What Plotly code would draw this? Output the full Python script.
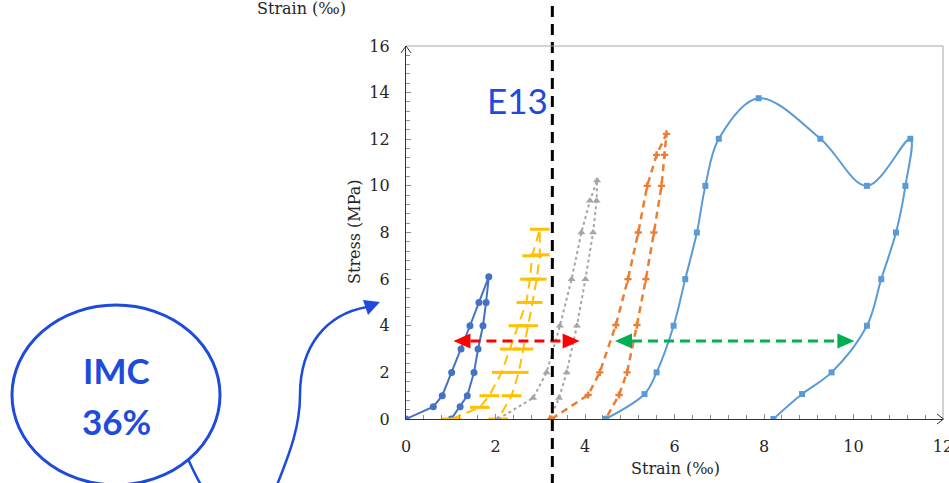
import plotly.graph_objects as go

# ---- loading / unloading cycles (strain in per mille, stress in MPa) ----
c1_strain = [0.0, 0.61, 0.81, 1.02, 1.23, 1.43, 1.63, 1.85,
             1.79, 1.72, 1.61, 1.52, 1.37, 1.21, 1.01]
c1_stress = [0.0, 0.53, 1.0, 2.0, 3.0, 4.0, 5.0, 6.1,
             5.0, 4.0, 3.0, 2.0, 1.0, 0.53, 0.0]

c2_strain = [1.02, 1.65, 1.86, 2.14, 2.32, 2.51, 2.69, 2.77, 2.82, 2.99,
             2.99, 2.92, 2.83, 2.73, 2.62, 2.52, 2.36, 2.06]
c2_stress = [0.0, 0.5, 1.0, 2.0, 3.0, 4.0, 5.0, 6.0, 7.0, 8.14,
             7.04, 6.0, 5.0, 4.0, 3.0, 2.0, 1.0, 0.0]

c3_strain = [2.06, 2.84, 3.14, 3.44, 3.70, 3.92, 4.11, 4.27,
             4.26, 4.18, 4.01, 3.82, 3.59, 3.42, 3.21]
c3_stress = [0.0, 0.9, 2.0, 4.0, 6.0, 8.0, 9.36, 10.23,
             9.36, 8.0, 6.0, 4.0, 2.0, 0.9, 0.0]

c4_strain = [3.25, 4.07, 4.33, 4.69, 4.96, 5.19, 5.39, 5.60, 5.82,
             5.78, 5.71, 5.54, 5.36, 5.16, 4.94, 4.76, 4.46]
c4_stress = [0.0, 1.03, 2.0, 4.03, 6.0, 8.0, 10.0, 11.33, 12.23,
             11.33, 10.0, 8.0, 6.0, 4.03, 2.0, 1.03, 0.0]

c5_strain = [4.46, 5.33, 5.60, 5.98, 6.24, 6.50, 6.69, 6.99, 7.88, 9.26,
             10.30, 11.27, 11.16, 10.95, 10.62, 10.30, 9.51, 8.85, 8.21]
c5_stress = [0.0, 1.07, 2.0, 4.0, 6.0, 8.0, 10.0, 12.02, 13.76, 12.02,
             10.0, 12.02, 10.0, 8.0, 6.0, 4.0, 2.0, 1.07, 0.0]

x_ticks = [0, 2, 4, 6, 8, 10, 12]
y_ticks = [0, 2, 4, 6, 8, 10, 12, 14, 16]

# residual-strain spans and the E13 marker position
red_span = (1.06, 3.88)
green_span = (4.67, 10.02)
span_stress = 3.35
e13_strain = 3.27

# ---- page geometry ----
W, H = 949, 483
ML, MR, MT, MB = 406, 6, 46, 64
PW, PH = W - ML - MR, H - MT - MB


def px(x):
    return (x - ML) / PW


def py(y):
    return (H - MB - y) / PH


BLUE_TXT = "#1E4BDB"
SERIF = "DejaVu Serif"

fig = go.Figure()

fig.add_trace(go.Scatter(
    x=c1_strain, y=c1_stress, mode="lines+markers",
    line=dict(color="#4472C4", width=2),
    marker=dict(symbol="circle", size=7, color="#4472C4")))

fig.add_trace(go.Scatter(
    x=c2_strain, y=c2_stress, mode="lines+markers",
    line=dict(color="#FFC000", width=2, dash="10px,6px"),
    marker=dict(symbol="line-ew", size=14,
                line=dict(color="#FFC000", width=3))))

fig.add_trace(go.Scatter(
    x=c3_strain, y=c3_stress, mode="lines+markers",
    line=dict(color="#A5A5A5", width=2, dash="dot"),
    marker=dict(symbol="triangle-up", size=7, color="#A5A5A5")))

fig.add_trace(go.Scatter(
    x=c4_strain, y=c4_stress, mode="lines+markers",
    line=dict(color="#ED7D31", width=2.5, dash="7px,5px"),
    marker=dict(symbol="cross", size=6, color="#ED7D31")))

fig.add_trace(go.Scatter(
    x=c5_strain, y=c5_stress, mode="lines+markers",
    line=dict(color="#5B9BD5", width=2, shape="spline", smoothing=1),
    marker=dict(symbol="square", size=6, color="#5B9BD5")))

shapes = []

# double-headed dashed arrows (head size set in pixels, converted to data units)
ux = (x_ticks[-1] - x_ticks[0]) / PW
uy = (y_ticks[-1] - y_ticks[0]) / PH
head_l, head_w = 17 * ux, 7.5 * uy


def double_arrow(span, color):
    a, b = span
    y = span_stress
    shapes.append(dict(type="line", xref="x", yref="y",
                       x0=a + head_l, x1=b - head_l, y0=y, y1=y,
                       line=dict(color=color, width=3, dash="10px,6px")))
    for tip, sgn in ((a, 1), (b, -1)):
        base = tip + sgn * head_l
        shapes.append(dict(type="path", xref="x", yref="y",
                           path=f"M {tip},{y} L {base},{y + head_w} L {base},{y - head_w} Z",
                           fillcolor=color, line=dict(color=color, width=0)))


double_arrow(red_span, "#FF0000")
double_arrow(green_span, "#00B050")

# E13 vertical dashed marker crossing the whole page height
shapes.append(dict(type="line", xref="x", yref="paper",
                   x0=e13_strain, x1=e13_strain, y0=py(H + 2), y1=py(-2),
                   line=dict(color="black", width=3, dash="11px,7px")))

# plot frame (top and right edges)
shapes.append(dict(type="line", xref="paper", yref="paper", x0=0, x1=1, y0=1, y1=1,
                   line=dict(color="#A6A6A6", width=1)))
shapes.append(dict(type="line", xref="paper", yref="paper", x0=1, x1=1, y0=0, y1=1,
                   line=dict(color="#A6A6A6", width=1)))

# axis arrow tips
shapes.append(dict(type="path", xref="paper", yref="paper",
                   path=f"M {px(401)},{py(53)} L {px(406)},{py(46)} L {px(411)},{py(53)}",
                   line=dict(color="#333333", width=1)))
shapes.append(dict(type="path", xref="paper", yref="paper",
                   path=f"M {px(937)},{py(414)} L {px(943.5)},{py(419)} L {px(937)},{py(424)}",
                   line=dict(color="#333333", width=1)))

# speech bubble with the IMC label
shapes.append(dict(type="circle", xref="paper", yref="paper",
                   x0=px(12), x1=px(220), y0=py(485), y1=py(305),
                   line=dict(color=BLUE_TXT, width=3)))
shapes.append(dict(type="path", xref="paper", yref="paper",
                   path=(f"M {px(188)},{py(459)} C {px(193)},{py(470)} "
                         f"{px(197)},{py(478)} {px(201)},{py(485)}"),
                   line=dict(color=BLUE_TXT, width=2.5)))

# curved pointer from the bubble to the chart
shapes.append(dict(type="path", xref="paper", yref="paper",
                   path=(f"M {px(277)},{py(485)} C {px(291)},{py(450)} {px(300)},{py(425)} {px(300)},{py(395)} "
                         f"C {px(300)},{py(345)} {px(327)},{py(314)} {px(367)},{py(307)}"),
                   line=dict(color=BLUE_TXT, width=2.5)))
shapes.append(dict(type="path", xref="paper", yref="paper",
                   path=(f"M {px(380)},{py(302)} L {px(363)},{py(300)} "
                         f"L {px(368)},{py(315)} Z"),
                   fillcolor=BLUE_TXT, line=dict(color=BLUE_TXT, width=0)))

annotations = [
    dict(text="E13", x=px(517), y=py(100), xref="paper", yref="paper",
         showarrow=False, xanchor="center", yanchor="middle",
         font=dict(family="Lato", size=35, color=BLUE_TXT)),
    dict(text="<b>IMC</b>", x=px(116), y=py(370), xref="paper", yref="paper",
         showarrow=False, xanchor="center", yanchor="middle",
         font=dict(family="Lato", size=35, color=BLUE_TXT)),
    dict(text="<b>36%</b>", x=px(116), y=py(421), xref="paper", yref="paper",
         showarrow=False, xanchor="center", yanchor="middle",
         font=dict(family="Lato", size=35, color=BLUE_TXT)),
    dict(text="Strain (‰)", x=px(675), y=py(468), xref="paper", yref="paper",
         showarrow=False, xanchor="center", yanchor="middle",
         font=dict(family=SERIF, size=16, color="#262626")),
    dict(text="Strain (‰)", x=px(301), y=py(9), xref="paper", yref="paper",
         showarrow=False, xanchor="center", yanchor="middle",
         font=dict(family=SERIF, size=16, color="#262626")),
    dict(text="Stress (MPa)", x=px(354), y=py(232), xref="paper", yref="paper",
         showarrow=False, xanchor="center", yanchor="middle", textangle=-90,
         font=dict(family=SERIF, size=16, color="#262626")),
]

axis_common = dict(
    showgrid=False, zeroline=False, showline=True, linecolor="#333333", linewidth=1.3,
    ticks="inside", ticklen=5, tickcolor="#8C8C8C", tickwidth=1,
    tickfont=dict(family=SERIF, size=16, color="#262626"),
    minor=dict(dtick=0.4, ticks="inside", ticklen=4, tickcolor="#8C8C8C"),
    tickmode="array", ticklabeloverflow="allow", automargin=False,
)

fig.update_layout(
    width=W, height=H,
    margin=dict(l=ML, r=MR, t=MT, b=MB, autoexpand=False),
    paper_bgcolor="white", plot_bgcolor="white",
    showlegend=False,
    xaxis=dict(range=[x_ticks[0], x_ticks[-1]], tickvals=x_ticks,
               ticklabelstandoff=13, **axis_common),
    yaxis=dict(range=[y_ticks[0], y_ticks[-1]], tickvals=y_ticks,
               ticklabelstandoff=12, **axis_common),
    shapes=shapes,
    annotations=annotations,
)

fig.write_html("out.html")
